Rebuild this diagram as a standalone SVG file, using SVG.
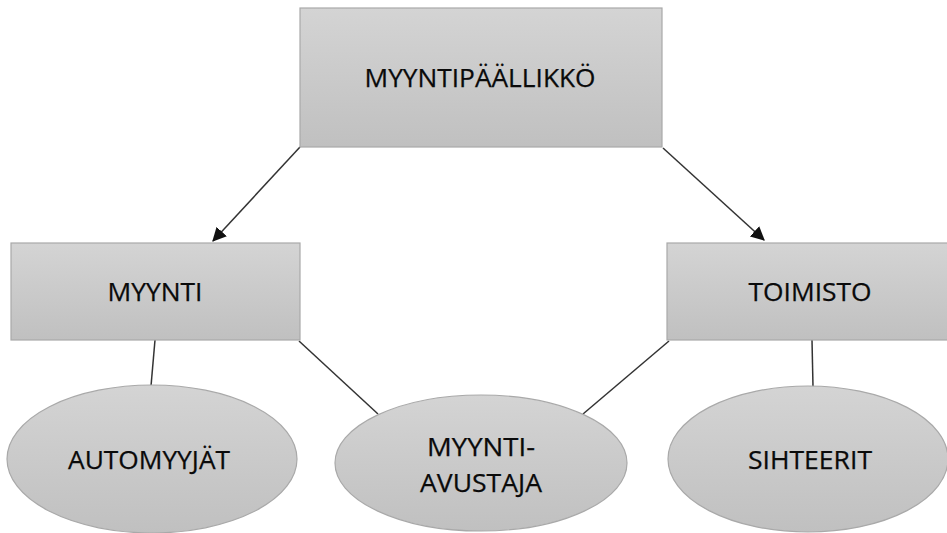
<svg xmlns="http://www.w3.org/2000/svg" width="947" height="533" viewBox="0 0 947 533">
<style>
.shape{fill:url(#g);stroke:#a9a9a9;stroke-width:1.2}
.lbl{font-family:"Open Sans","Liberation Sans",sans-serif;font-size:25.5px;fill:#0a0a0a;stroke:#0a0a0a;stroke-width:0.25;text-anchor:middle}
.conn{stroke:#333;stroke-width:1.5;fill:none}
</style>
<defs>
<linearGradient id="g" x1="0" y1="0" x2="0" y2="1">
<stop offset="0" stop-color="#d4d4d4"/>
<stop offset="1" stop-color="#c0c0c0"/>
</linearGradient>
<marker id="ah" viewBox="0 0 12 12" refX="11" refY="6" markerWidth="14" markerHeight="14" orient="auto" markerUnits="userSpaceOnUse">
<path d="M0,0 L12,6 L0,12 z" fill="#111"/>
</marker>
</defs>
<g id="connectors">
<line class="conn" x1="300" y1="147" x2="213" y2="241" marker-end="url(#ah)"/>
<line class="conn" x1="663" y1="148" x2="764" y2="240" marker-end="url(#ah)"/>
<line class="conn" x1="155" y1="340" x2="151" y2="386"/>
<line class="conn" x1="299" y1="341" x2="378" y2="414"/>
<line class="conn" x1="669" y1="341" x2="583" y2="414"/>
<line class="conn" x1="812" y1="340" x2="813" y2="387"/>
</g>
<g id="myyntipaallikko">
<rect class="shape" x="300" y="8" width="362" height="139"/>
<text class="lbl" x="480" y="87" textLength="231" lengthAdjust="spacingAndGlyphs">MYYNTIPÄÄLLIKKÖ</text>
</g>
<g id="myynti">
<rect class="shape" x="11" y="243" width="289" height="97"/>
<text class="lbl" x="155" y="301" textLength="95" lengthAdjust="spacingAndGlyphs">MYYNTI</text>
</g>
<g id="toimisto">
<rect class="shape" x="667" y="243" width="289" height="97"/>
<text class="lbl" x="810" y="301" textLength="123" lengthAdjust="spacingAndGlyphs">TOIMISTO</text>
</g>
<g id="automyyjat">
<ellipse class="shape" cx="152" cy="459" rx="145" ry="74"/>
<text class="lbl" x="149" y="469" textLength="162" lengthAdjust="spacingAndGlyphs">AUTOMYYJÄT</text>
</g>
<g id="myyntiavustaja">
<ellipse class="shape" cx="481" cy="463" rx="146" ry="68"/>
<text class="lbl" x="481" y="456" textLength="108" lengthAdjust="spacingAndGlyphs">MYYNTI-</text>
<text class="lbl" x="481" y="492" textLength="122" lengthAdjust="spacingAndGlyphs">AVUSTAJA</text>
</g>
<g id="sihteerit">
<ellipse class="shape" cx="808" cy="459" rx="140" ry="73"/>
<text class="lbl" x="810" y="469" textLength="124" lengthAdjust="spacingAndGlyphs">SIHTEERIT</text>
</g>
</svg>
